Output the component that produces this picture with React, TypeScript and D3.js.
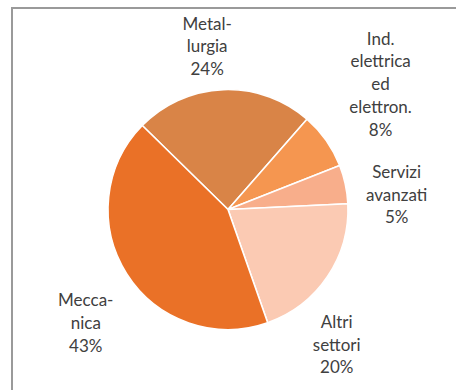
import React from "react";
import * as d3 from "d3";

// ---- data ----
const categories = ["Metallurgia", "Ind. elettrica ed elettron.", "Servizi avanzati", "Altri settori", "Meccanica"];
const values = [24.1, 7.6, 5.2, 20.4, 42.7];
const labelLines = [
  ["Metal-", "lurgia"],
  ["Ind.", "elettrica", "ed", "elettron."],
  ["Servizi", "avanzati"],
  ["Altri", "settori"],
  ["Mecca-", "nica"],
];

// ---- styling / layout ----
const colors = ["#D98447", "#F59650", "#F8AE8B", "#FBCAB3", "#EA7127"];
const W = 456;
const H = 390;
const cx = 228;
const cy = 209.5;
const R = 120;
const startDeg = -45.6;
// label placement (angle clockwise from 12 o'clock, distance from pie centre)
const labelAngleDeg = [-7.3, 50.6, 85.0, 141.2, 231.4];
const labelDist = [164.3, 197.5, 169.3, 173.5, 182.0];
const fontSize = 17;
const lineH = 22.7;

export default function App() {
  const total = d3.sum(values);
  const pie = d3
    .pie<number>()
    .sort(null)
    .value((d) => d)
    .startAngle((startDeg * Math.PI) / 180)
    .endAngle((startDeg * Math.PI) / 180 + 2 * Math.PI);
  const arcs = pie(values);
  const arcGen = d3.arc<d3.PieArcDatum<number>>().innerRadius(0).outerRadius(R);
  const fmt = d3.format(".0%");

  return (
    <svg
      width={W}
      height={H}
      style={{ position: "absolute", left: 0, top: 0, display: "block", background: "#fff" }}
    >
      <rect x={12} y={8} width={470} height={420} fill="#fff" stroke="#9a9a9a" strokeWidth={2} />
      <g transform={`translate(${cx},${cy})`}>
        {arcs.map((a, i) => (
          <path key={categories[i]} d={arcGen(a) || ""} fill={colors[i]} stroke="#fff" strokeWidth={1.6} strokeLinejoin="round" />
        ))}
        {arcs.map((a, i) => {
          const ang = (labelAngleDeg[i] * Math.PI) / 180;
          const lx = Math.sin(ang) * labelDist[i];
          const ly = -Math.cos(ang) * labelDist[i];
          const lines = [...labelLines[i], fmt(values[i] / total)];
          const n = lines.length;
          return (
            <text
              key={"l" + i}
              x={lx}
              y={ly}
              textAnchor="middle"
              fontFamily="Lato, 'Open Sans', sans-serif"
              fontSize={fontSize}
              fill="#404040"
            >
              {lines.map((t, j) => (
                <tspan key={j} x={lx} y={ly + (j - (n - 1) / 2) * lineH} dy="0.35em">
                  {t}
                </tspan>
              ))}
            </text>
          );
        })}
      </g>
    </svg>
  );
}
